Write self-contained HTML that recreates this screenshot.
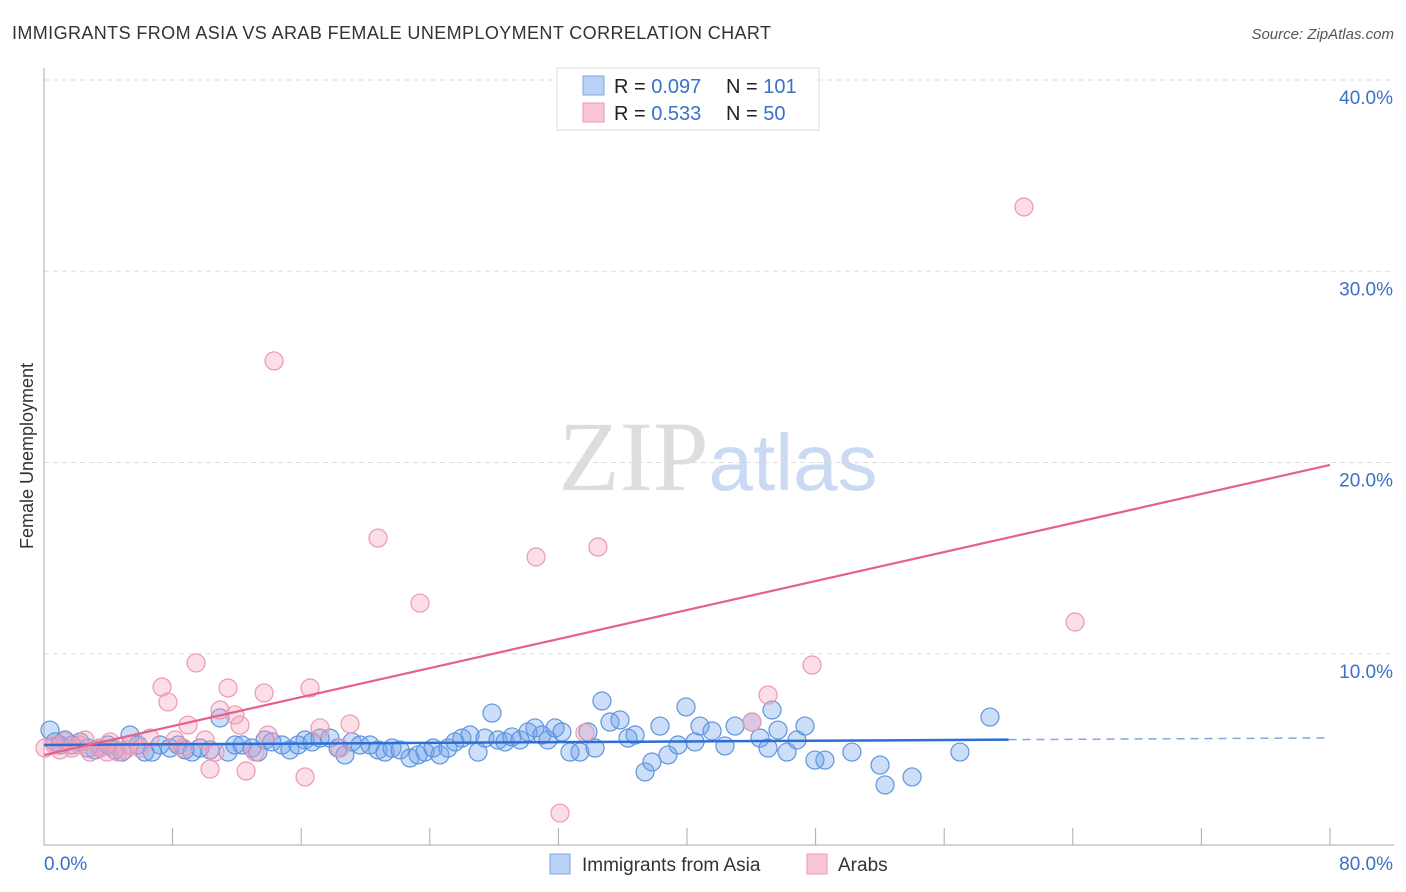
<!DOCTYPE html>
<html><head><meta charset="utf-8"><style>
body{margin:0;background:#fff;font-family:"Liberation Sans",sans-serif}
svg{display:block}
</style></head><body>
<svg id="chart" width="1406" height="892" xmlns="http://www.w3.org/2000/svg">
<text x="12" y="39" font-size="18" fill="#333" textLength="759">IMMIGRANTS FROM ASIA VS ARAB FEMALE UNEMPLOYMENT CORRELATION CHART</text>
<text x="1394" y="39" font-size="15" fill="#555" font-style="italic" text-anchor="end">Source: ZipAtlas.com</text>
<text x="718" y="490" font-size="100" fill="#ddd" text-anchor="middle" font-family="Liberation Serif,serif">ZIP<tspan fill="#c9daf2" font-family="Liberation Sans,sans-serif" font-size="80">atlas</tspan></text>
<text transform="translate(33,456) rotate(-90)" font-size="18" fill="#333" text-anchor="middle">Female Unemployment</text>
<g id="grid"></g><g id="axes"></g><g id="pts"></g><g id="lines"></g>
<g>
<rect x="557" y="68" width="262" height="62" fill="#fff" stroke="#ddd"/>
<rect x="583" y="76" width="21" height="19" fill="#b8d1f5" stroke="#7fa7e0"/>
<rect x="583" y="103" width="21" height="19" fill="#f9c6d5" stroke="#e99ab3"/>
<text x="614" y="93" font-size="20" fill="#222">R = <tspan fill="#3a70c8">0.097</tspan><tspan x="726">N = </tspan><tspan fill="#3a70c8">101</tspan></text>
<text x="614" y="120" font-size="20" fill="#222">R = <tspan fill="#3a70c8"> 0.533</tspan><tspan x="726">N = </tspan><tspan fill="#3a70c8"> 50</tspan></text>
</g>
<g>
<rect x="550" y="854" width="20" height="20" fill="#b8d1f5" stroke="#7fa7e0"/>
<text x="582" y="871" font-size="19" fill="#333">Immigrants from Asia</text>
<rect x="807" y="854" width="20" height="20" fill="#f9c6d5" stroke="#e99ab3"/>
<text x="838" y="871" font-size="19" fill="#333">Arabs</text>
</g>
</svg>
<script>
const yTicks=[10,20,30,40];
const yTickLabels=["10.0%","20.0%","30.0%","40.0%"];
const xLabels=["0.0%","80.0%"];
const asiaPx=[[50,730],[55,742],[60,745],[65,740],[72,745],[80,742],[88,748],[95,750],[100,748],[108,745],[115,750],[122,752],[130,735],[138,745],[145,752],[152,752],[160,745],[170,748],[178,745],[185,750],[192,752],[200,748],[210,750],[220,718],[228,752],[235,745],[242,745],[252,748],[258,752],[265,740],[272,742],[282,745],[290,750],[298,745],[305,740],[312,742],[320,738],[330,738],[338,748],[345,755],[352,742],[360,745],[370,745],[378,750],[385,752],[392,748],[400,750],[410,758],[418,755],[425,752],[433,748],[440,755],[448,748],[455,742],[462,738],[470,735],[478,752],[485,738],[492,713],[498,740],[505,742],[512,737],[520,740],[528,732],[535,728],[542,735],[548,740],[555,728],[562,732],[570,752],[580,752],[588,732],[595,748],[602,701],[610,722],[620,720],[628,738],[635,735],[645,772],[652,762],[660,726],[668,755],[678,745],[686,707],[695,742],[700,726],[712,731],[725,746],[735,726],[752,722],[760,738],[768,748],[772,710],[778,730],[787,752],[797,740],[805,726],[815,760],[825,760],[852,752],[880,765],[885,785],[912,777],[960,752],[990,717]];
const arabPx=[[55,745],[60,750],[65,742],[72,748],[80,745],[90,752],[100,748],[110,742],[118,752],[125,750],[140,748],[150,738],[162,687],[168,702],[175,740],[183,748],[188,725],[196,663],[205,740],[210,769],[215,752],[220,710],[228,688],[235,715],[240,725],[246,771],[255,752],[264,693],[268,735],[274,361],[305,777],[310,688],[320,728],[340,748],[350,724],[378,538],[420,603],[536,557],[560,813],[585,733],[598,547],[752,722],[768,695],[812,665],[1024,207],[1075,622],[45,748],[85,740],[130,745],[107,752]];
const asiaX=asiaPx.map(p=>+((p[0]-44)*80/1286).toFixed(2));
const asiaY=asiaPx.map(p=>+((845-p[1])/19.125).toFixed(2));
const arabX=arabPx.map(p=>+((p[0]-44)*80/1286).toFixed(2));
const arabY=arabPx.map(p=>+((845-p[1])/19.125).toFixed(2));
const asiaTrend=[5.23,5.6];
const arabTrend=[4.7,19.87];
const X=v=>44+v*1286/80, Y=v=>845-v*19.125;
const NS="http://www.w3.org/2000/svg";
function mk(t,a,parent){const e=document.createElementNS(NS,t);for(const k in a)e.setAttribute(k,a[k]);document.getElementById(parent).appendChild(e);return e;}
yTicks.forEach((t,i)=>{
 const g=mk('line',{x1:44,x2:1394,y1:Y(t),y2:Y(t),stroke:'#ddd','stroke-dasharray':'5,4'},'grid');
 
 
 const l=mk('text',{x:1393,y:Y(t)+24,'font-size':19,fill:'#3a70c8','text-anchor':'end'},'grid');l.textContent=yTickLabels[i];
 
 
});
mk('line',{x1:44,x2:44,y1:68,y2:845,stroke:'#aaa'},'axes');
mk('line',{x1:44,x2:1394,y1:845,y2:845,stroke:'#aaa'},'axes');
for(let k=1;k<=10;k++){const t=mk('line',{x1:X(k*8),x2:X(k*8),y1:828,y2:845,stroke:'#aaa'},'axes');
 
 }
const xl0=mk('text',{x:44,y:870,'font-size':19,fill:'#3a70c8'},'axes');xl0.textContent=xLabels[0];


const xl1=mk('text',{x:1393,y:870,'font-size':19,fill:'#3a70c8','text-anchor':'end'},'axes');xl1.textContent=xLabels[1];


asiaX.forEach((x,i)=>{const c=mk('circle',{cx:X(x),cy:Y(asiaY[i]),r:9,fill:'rgba(110,160,235,0.35)',stroke:'#5f95de','stroke-width':1.2},'pts');
 
 });
arabX.forEach((x,i)=>{const c=mk('circle',{cx:X(x),cy:Y(arabY[i]),r:9,fill:'rgba(245,160,185,0.35)',stroke:'#ec98b2','stroke-width':1.2},'pts');
 
 });
const ay=x=>asiaTrend[0]+(asiaTrend[1]-asiaTrend[0])*x/80;
const l1=mk('line',{x1:X(0),y1:Y(ay(0)),x2:X(60),y2:Y(ay(60)),stroke:'#2b6fd6','stroke-width':2.5},'lines');


const l2=mk('line',{x1:X(60),y1:Y(ay(60)),x2:X(80),y2:Y(ay(80)),stroke:'#7fa7e0','stroke-width':1.5,'stroke-dasharray':'8,6'},'lines');


const l3=mk('line',{x1:X(0),y1:Y(arabTrend[0]),x2:X(80),y2:Y(arabTrend[1]),stroke:'#e5608a','stroke-width':2.2},'lines');


</script>
</body></html>
